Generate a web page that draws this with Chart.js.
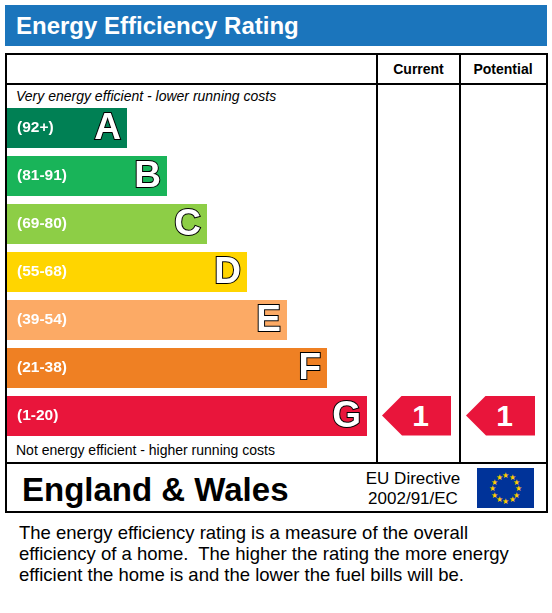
<!DOCTYPE html>
<html><head><meta charset="utf-8">
<script src="https://cdn.jsdelivr.net/npm/chart.js@4"></script>
<style>
body{margin:0;width:552px;height:613px;background:#fff;font-family:"Liberation Sans",Arial,sans-serif;position:relative;overflow:hidden}
.a{position:absolute}
.title{left:5px;top:5px;width:542px;height:41px;background:#1b75bc;color:#fff;font-weight:bold;font-size:24px;line-height:41px;padding-left:11px;box-sizing:border-box}
.box{left:5px;top:53px;width:543px;height:460px;border:2px solid #000;box-sizing:border-box}
.hl{height:2px;background:#000}
.vl{width:2px;background:#000}
.hd{font-weight:bold;font-size:14px;text-align:center;top:61px}
.it{font-style:italic;font-size:14px;color:#000}
.arrow{height:40px;clip-path:polygon(0 50%,20px 0,100% 0,100% 100%,20px 100%);color:#fff;font-weight:bold;font-size:30px;line-height:40px;text-align:center;padding-left:8px;box-sizing:border-box}
</style></head><body>
<div class="a title">Energy Efficiency Rating</div>
<div class="a box"></div>
<div class="a hl" style="left:5px;top:83px;width:543px"></div>
<div class="a hl" style="left:5px;top:462px;width:543px"></div>
<div class="a vl" style="left:376px;top:53px;height:410px"></div>
<div class="a vl" style="left:459px;top:53px;height:410px"></div>
<div class="a hd" style="left:377px;width:83px">Current</div>
<div class="a hd" style="left:460px;width:86px">Potential</div>
<div class="a it" style="left:16px;top:88px">Very energy efficient - lower running costs</div>
<div class="a it" style="left:16px;top:442px;font-style:normal">Not energy efficient - higher running costs</div>
<div class="a" style="left:7px;top:103.5px;width:360px;height:336px"><canvas id="c"></canvas></div>
<div id="cur" class="a arrow" style="left:382px;width:69px;background:#e9153b"></div>
<div id="pot" class="a arrow" style="left:466px;width:69px;background:#e9153b"></div>
<div class="a" style="left:22px;top:471px;font-weight:bold;font-size:33px">England &amp; Wales</div>
<div class="a" style="left:355px;top:469px;width:116px;text-align:center;font-size:17px;line-height:20px">EU Directive<br>2002/91/EC</div>
<svg class="a" style="left:477px;top:468px" width="57" height="40" id="flag"><rect width="57" height="40" fill="#003399"/></svg>
<div class="a" style="left:19px;top:522px;font-size:18.5px;line-height:21px;width:540px;white-space:nowrap">The energy efficiency rating is a measure of the overall<br>efficiency of a home.&nbsp; The higher the rating the more energy<br>efficient the home is and the lower the fuel bills will be.</div>
<script>
const bands=["A","B","C","D","E","F","G"];
const ranges=["(92+)","(81-91)","(69-80)","(55-68)","(39-54)","(21-38)","(1-20)"];
const barUnits=[3,4,5,6,7,8,9];
const colors=["#008054","#19b459","#8dce46","#ffd500","#fcaa65","#ef8023","#e9153b"];
const currentRating=1, currentBand="G";
const potentialRating=1, potentialBand="G";

const fl=document.getElementById('flag');
for(let i=0;i<12;i++){const a=i*Math.PI/6;const t=document.createElementNS('http://www.w3.org/2000/svg','text');
t.setAttribute('x',28.5+13*Math.sin(a));t.setAttribute('y',20-13*Math.cos(a)+3);t.setAttribute('fill','#ffcc00');
t.setAttribute('font-size','8');t.setAttribute('text-anchor','middle');t.textContent='★';fl.appendChild(t);}

const labelPlugin={id:'lbl',afterDatasetsDraw(ch){const ctx=ch.ctx;const m=ch.getDatasetMeta(0);
m.data.forEach((b,i)=>{ctx.save();ctx.textBaseline='middle';
ctx.fillStyle='#fff';ctx.font='bold 15.5px "Liberation Sans",Arial';ctx.textAlign='left';
ctx.fillText(ranges[i],10,b.y);
ctx.font='bold 37px "Liberation Sans",Arial';ctx.textAlign='right';ctx.lineWidth=2;ctx.strokeStyle='#000';
ctx.strokeText(bands[i],b.x-6,b.y+1);ctx.fillText(bands[i],b.x-6,b.y+1);ctx.restore();});}};
const ch=new Chart(document.getElementById('c'),{type:'bar',
data:{labels:bands,datasets:[{data:barUnits,backgroundColor:colors,barPercentage:40/48,categoryPercentage:1,borderWidth:0}]},
options:{indexAxis:'y',responsive:true,maintainAspectRatio:false,animation:false,layout:{padding:0},
plugins:{legend:{display:false},tooltip:{enabled:false}},
scales:{x:{display:false,min:0,max:9},y:{display:false}}},plugins:[labelPlugin]});
function place(id,band,val){const i=bands.indexOf(band);const b=ch.getDatasetMeta(0).data[i];
const e=document.getElementById(id);e.style.top=(103.5+b.y-20)+'px';e.textContent=val;e.style.background=colors[i];}
place('cur',currentBand,currentRating);place('pot',potentialBand,potentialRating);
</script></body></html>
